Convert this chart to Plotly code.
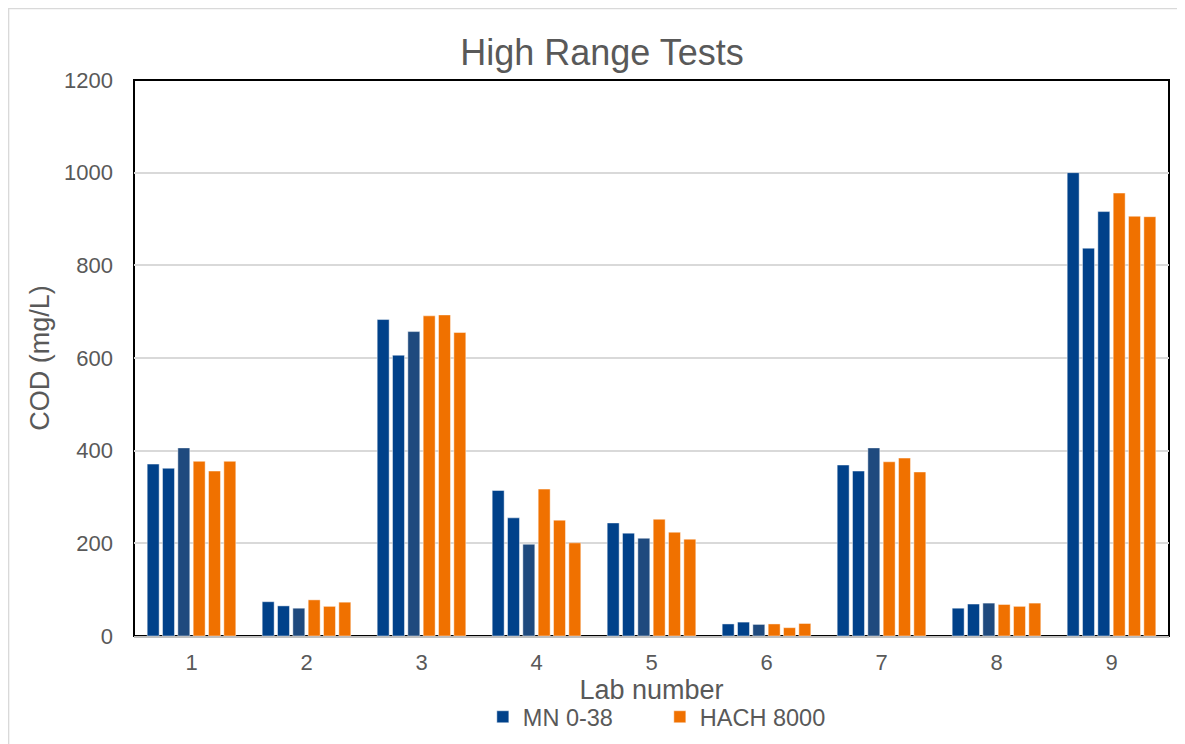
import plotly.graph_objects as go

labs = ["1", "2", "3", "4", "5", "6", "7", "8", "9"]
mn_run1 = [371, 74, 683, 314, 244, 26, 369, 60, 1000]
mn_run2 = [362, 65, 606, 255, 222, 30, 356, 69, 837]
mn_run3 = [406, 60, 657, 198, 211, 25, 406, 71, 916]
hach_run1 = [377, 78, 691, 317, 252, 26, 376, 68, 956]
hach_run2 = [356, 64, 693, 250, 224, 18, 384, 64, 906]
hach_run3 = [377, 73, 655, 201, 209, 27, 354, 71, 905]
y_ticks = [0, 200, 400, 600, 800, 1000, 1200]

BLUE = "#00418A"
BLUE_DARK = "#1F4A7E"
ORANGE = "#F07100"
TXT = "#595959"
FONT = "Liberation Sans, Arial, sans-serif"

fig = go.Figure()
series = [
    ("MN 0-38", mn_run1, BLUE, True, "mn"),
    ("MN 0-38", mn_run2, BLUE, False, "mn"),
    ("MN 0-38", mn_run3, [BLUE_DARK] * 8 + [BLUE], False, "mn"),
    ("HACH 8000", hach_run1, ORANGE, True, "hach"),
    ("HACH 8000", hach_run2, ORANGE, False, "hach"),
    ("HACH 8000", hach_run3, ORANGE, False, "hach"),
]
for name, vals, col, show, grp in series:
    fig.add_trace(go.Bar(
        x=labs, y=vals, name=name, showlegend=show, legendgroup=grp,
        marker=dict(color=col, line=dict(color="rgba(255,255,255,0.45)", width=1)),
    ))

OFF = 8  # page body margin
SW, SH = 1185, 744
W, H = SW - OFF, SH - OFF
PL, PR, PT, PB = 134, 1169.5, 80, 636  # plot area in screen px
L, R, T, B = PL - OFF, SW - PR, PT - OFF, SH - PB
pw, ph = W - L - R, H - T - B

def px(x):
    return (x - PL) / pw

def py(y):
    return (PB - y) / ph

fig.update_layout(
    width=W, height=H,
    margin=dict(l=L, r=R, t=T, b=B, autoexpand=False),
    paper_bgcolor="white", plot_bgcolor="white",
    barmode="group", bargap=0.2, bargroupgap=0.22,
    font=dict(family=FONT, color=TXT, size=22),
    title=dict(text="High Range Tests", x=(602 - OFF) / W, xanchor="center",
               y=1 - (52 - OFF) / H, yanchor="middle",
               font=dict(size=36, color=TXT, family=FONT)),
    xaxis=dict(
        showgrid=False, showline=True, linecolor="#BFBFBF", linewidth=2,
        ticks="", ticklabelstandoff=6, tickfont=dict(size=22, color=TXT),
        title=dict(text="Lab number", font=dict(size=27, color=TXT), standoff=0),
    ),
    yaxis=dict(
        range=[0, 1200], tickvals=y_ticks, showgrid=True, gridcolor="#D9D9D9",
        gridwidth=1.5, zeroline=False, showline=False, ticks="",
        ticklabelstandoff=20, tickfont=dict(size=22, color=TXT),
        title=dict(text="COD (mg/L)", font=dict(size=27, color=TXT), standoff=6),
    ),
    legend=dict(orientation="h", x=px(483), xanchor="left", y=py(717), yanchor="middle",
                font=dict(size=23.5, color=TXT), itemwidth=30, traceorder="normal",
                entrywidth=132, entrywidthmode="pixels"),
    shapes=[
        dict(type="rect", xref="paper", yref="paper", x0=0, x1=1, y0=0, y1=1,
             line=dict(color="black", width=2), layer="below"),
        dict(type="rect", xref="paper", yref="paper", x0=px(8.5), x1=px(1200),
             y0=py(760), y1=py(8.5), line=dict(color="#D9D9D9", width=1.5), layer="below"),
    ],
)

fig.write_html("out.html")
